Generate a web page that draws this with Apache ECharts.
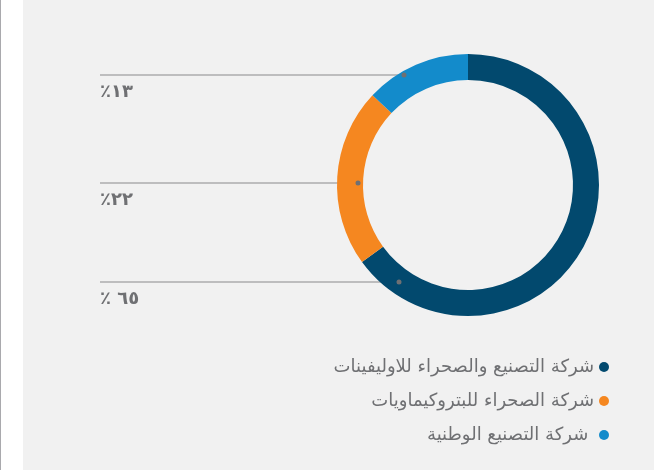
<!DOCTYPE html>
<html>
<head>
<meta charset="utf-8">
<script src="https://cdn.jsdelivr.net/npm/echarts@6/dist/echarts.min.js"></script>
<style>
	html, body { margin: 0; padding: 0; background: #fff; }
	#chart { width: 661px; height: 470px; }
</style>
</head>
<body>
<div id="chart"></div>
<script>
	// company names (legend + slices)
	var companies = [
		'شركة التصنيع والصحراء للاوليفينات',
		'شركة الصحراء للبتروكيماويات',
		'شركة التصنيع الوطنية '
	];
	// share in percent
	var shares = [65, 22, 13];
	// label texts as printed
	var shareLabels = ['٪ ٦٥', '٪٢٢', '٪١٣'];
	var colors = ['#02496e', '#f58720', '#138bcb'];

	// leader line placement (y of line, x of the dot on the ring)
	var lineY = [282, 183, 75];
	var dotX = [399, 358, 404];
	var lineStartX = 100;

	var textColor = '#6f7073';
	var font = "'DejaVu Sans', sans-serif";

	var data = [];
	for (var i = 0; i < companies.length; i++) {
		data.push({ name: companies[i], value: shares[i] });
	}

	var dots = [];
	for (var i = 0; i < dotX.length; i++) {
		dots.push({
			type: 'circle',
			z: 100,
			shape: { cx: dotX[i], cy: lineY[i], r: 2.5 },
			style: { fill: '#6f7073' }
		});
	}

	var myChart = echarts.init(document.getElementById('chart'));
	var option = {
		animation: false,
		backgroundColor: '#ffffff',
		color: colors,
		graphic: [
			{ type: 'rect', z: -10, shape: { x: 23, y: 0, width: 631, height: 470 }, style: { fill: '#f1f1f1' } },
			{ type: 'rect', z: -10, shape: { x: 0, y: 0, width: 1, height: 470 }, style: { fill: '#a9a9ad' } }
		].concat(dots),
		legend: {
			orient: 'vertical',
			align: 'right',
			right: 47,
			top: 353,
			itemGap: 16,
			itemWidth: 10,
			itemHeight: 10,
			icon: 'circle',
			data: companies,
			textStyle: {
				color: textColor,
				fontSize: 18,
				fontFamily: font,
				padding: [0, 0, 0, 0]
			}
		},
		series: [{
			type: 'pie',
			center: [468, 185],
			radius: [105, 131],
			startAngle: 90,
			clockwise: true,
			emphasis: { disabled: true },
			data: data,
			label: {
				show: true,
				overflow: 'none',
				formatter: function(p) {
					return shareLabels[p.dataIndex];
				},
				color: textColor,
				fontSize: 18,
				fontWeight: 'bold',
				fontFamily: font
			},
			labelLine: {
				show: true,
				lineStyle: { color: '#8a8a8c', width: 1.2 }
			},
			labelLayout: function(params) {
				var i = params.dataIndex;
				return {
					x: lineStartX,
					y: lineY[i] + 17,
					width: 80,
					align: 'left',
					verticalAlign: 'middle',
					labelLinePoints: [
						[dotX[i], lineY[i]],
						[lineStartX, lineY[i]],
						[lineStartX, lineY[i]]
					]
				};
			}
		}]
	};
	myChart.setOption(option);
</script>
</body>
</html>
